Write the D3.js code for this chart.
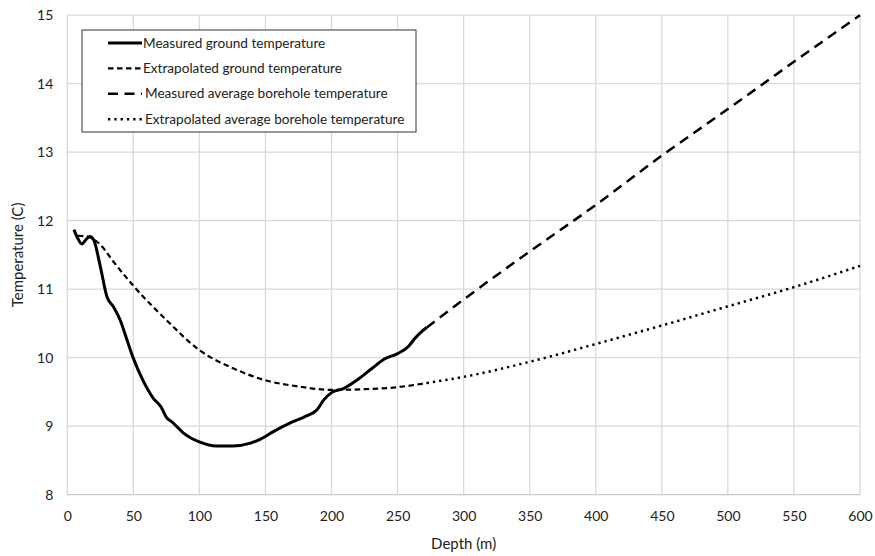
<!DOCTYPE html>
<html>
<head>
<meta charset="utf-8">
<script src="https://cdn.jsdelivr.net/npm/d3@7"></script>
<style>
  body { margin: 0; background: #fff; }
  text { font-family: Lato, "Liberation Sans", sans-serif; fill: #222; }
</style>
</head>
<body>
<div class="chart"></div>
<script>
var width = 875;
var height = 556;

// measured ground temperature (solid)
var measuredDepth = [5, 8, 11, 14, 17, 20, 25, 30, 35, 40, 45, 50, 57, 65, 71, 75, 80, 88, 100, 113, 125, 138, 145, 156, 168, 181, 189, 194, 200, 209, 219, 231, 240, 250, 258, 263, 267, 272];
var measuredTemp = [11.87, 11.74, 11.66, 11.72, 11.77, 11.72, 11.33, 10.89, 10.74, 10.55, 10.27, 9.99, 9.68, 9.41, 9.28, 9.13, 9.05, 8.90, 8.77, 8.71, 8.71, 8.75, 8.80, 8.92, 9.04, 9.15, 9.24, 9.38, 9.49, 9.55, 9.67, 9.85, 9.98, 10.06, 10.16, 10.28, 10.36, 10.44];

// extrapolated ground temperature (short dash)
var extGroundDepth = [8, 15, 25, 35, 50, 75, 100, 125, 150, 175, 200, 225, 250, 272];
var extGroundTemp = [11.78, 11.77, 11.65, 11.40, 11.05, 10.55, 10.11, 9.85, 9.67, 9.58, 9.53, 9.54, 9.57, 9.63];

// measured average borehole temperature (long dash)
var boreDepth = [272, 300, 350, 400, 450, 500, 550, 600];
var boreTemp = [10.44, 10.85, 11.55, 12.23, 12.95, 13.63, 14.32, 15.0];

// extrapolated average borehole temperature (dotted)
var extBoreDepth = [272, 300, 350, 400, 450, 500, 550, 600];
var extBoreTemp = [9.63, 9.72, 9.94, 10.2, 10.47, 10.75, 11.03, 11.34];

var xTicks = [0, 50, 100, 150, 200, 250, 300, 350, 400, 450, 500, 550, 600];
var yTicks = [8, 9, 10, 11, 12, 13, 14, 15];

var legendLabels = ["Measured ground temperature", "Extrapolated ground temperature",
    "Measured average borehole temperature", "Extrapolated average borehole temperature"];

var margin = {left: 67.3, right: 15, top: 15.2, bottom: 61.3};

var x = d3.scaleLinear().domain([0, 600]).range([margin.left, width - margin.right]);
var y = d3.scaleLinear().domain([8, 15]).range([height - margin.bottom, margin.top]);

var svg = d3.select(".chart")
    .append("svg")
    .attr("width", width)
    .attr("height", height);

// grid
svg.append("g")
    .selectAll("line.vx")
    .data(xTicks)
    .enter()
    .append("line")
    .attr("x1", function (d) { return x(d); })
    .attr("x2", function (d) { return x(d); })
    .attr("y1", y(8))
    .attr("y2", y(15))
    .style("stroke", "#d9d9d9")
    .style("stroke-width", 1.3);

svg.append("g")
    .selectAll("line.hy")
    .data(yTicks)
    .enter()
    .append("line")
    .attr("x1", x(0))
    .attr("x2", x(600))
    .attr("y1", function (d) { return y(d); })
    .attr("y2", function (d) { return y(d); })
    .style("stroke", function (d) { return d == 8 ? "#c8c8c8" : "#d9d9d9"; })
    .style("stroke-width", 1.3);

// axes labels
var xAxis = d3.axisBottom(x).tickValues(xTicks).tickSize(0).tickPadding(16);
svg.append("g")
    .attr("transform", "translate(0," + y(8) + ")")
    .call(xAxis)
    .call(function (g) { g.select(".domain").remove(); })
    .selectAll("text")
    .style("font-size", "14px")
    .style("font-family", "Lato, 'Liberation Sans', sans-serif")
    .style("fill", "#222");

var yAxis = d3.axisLeft(y).tickValues(yTicks).tickFormat(d3.format("d")).tickSize(0).tickPadding(14);
svg.append("g")
    .attr("transform", "translate(" + x(0) + ",0)")
    .call(yAxis)
    .call(function (g) { g.select(".domain").remove(); })
    .selectAll("text")
    .style("font-size", "14px")
    .style("font-family", "Lato, 'Liberation Sans', sans-serif")
    .style("fill", "#222");

svg.append("text")
    .attr("x", (x(0) + x(600)) / 2)
    .attr("y", 549)
    .attr("text-anchor", "middle")
    .style("font-size", "15px")
    .text("Depth (m)");

svg.append("text")
    .attr("transform", "translate(23," + (y(11.5)) + ") rotate(-90)")
    .attr("text-anchor", "middle")
    .style("font-size", "15px")
    .text("Temperature (C)");

// lines
var line = d3.line()
    .x(function (d) { return x(d[0]); })
    .y(function (d) { return y(d[1]); })
    .curve(d3.curveMonotoneX);

function pairs(a, b) {
    return a.map(function (v, i) { return [v, b[i]]; });
}

var series = [
    {data: pairs(measuredDepth, measuredTemp), width: 3, dash: null},
    {data: pairs(extGroundDepth, extGroundTemp), width: 2.2, dash: "5.5,3.5"},
    {data: pairs(boreDepth, boreTemp), width: 2.5, dash: "10,6.5"},
    {data: pairs(extBoreDepth, extBoreTemp), width: 2.5, dash: "2.3,4"}
];

svg.selectAll("path.series")
    .data(series)
    .enter()
    .append("path")
    .attr("class", "series")
    .attr("d", function (d) { return line(d.data); })
    .style("fill", "none")
    .style("stroke", "#000")
    .style("stroke-width", function (d) { return d.width; })
    .style("stroke-dasharray", function (d) { return d.dash; });

// legend
var legend = svg.append("g");

legend.append("rect")
    .attr("x", 82)
    .attr("y", 30)
    .attr("width", 334)
    .attr("height", 102)
    .style("fill", "#fff")
    .style("stroke", "#333")
    .style("stroke-width", 1);

var rows = legend.selectAll("g.row")
    .data(series)
    .enter()
    .append("g")
    .attr("transform", function (d, i) { return "translate(0," + (43 + i * 25.4) + ")"; });

rows.append("line")
    .attr("x1", 108)
    .attr("x2", 142)
    .attr("y1", 0)
    .attr("y2", 0)
    .style("stroke", "#000")
    .style("stroke-width", function (d) { return d.width; })
    .style("stroke-dasharray", function (d) { return d.dash; });

rows.append("text")
    .attr("x", function (d, i) { return i < 2 ? 143 : 145; })
    .attr("y", 4.5)
    .style("font-size", "13.6px")
    .text(function (d, i) { return legendLabels[i]; });
</script>
</body>
</html>
